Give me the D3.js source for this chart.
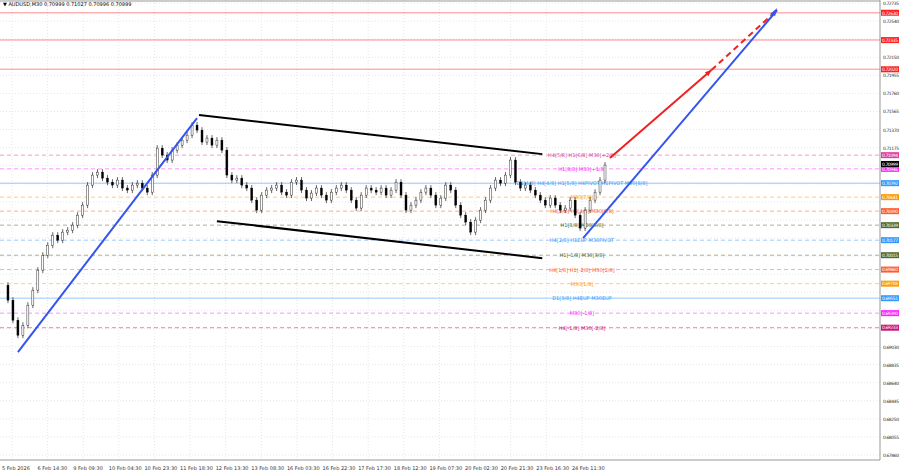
<!DOCTYPE html><html><head><meta charset="utf-8"><script src="https://cdn.jsdelivr.net/npm/d3@7"></script>
<style>body{margin:0;background:#fff}svg{font-family:"DejaVu Sans",sans-serif}</style></head><body><svg id="c" width="900" height="474"></svg>
<script>
const closes=[0.69692,0.69530,0.69314,0.69152,0.69260,0.69476,0.69638,0.69854,0.70015,0.70123,0.70231,0.70177,0.70264,0.70285,0.70339,0.70447,0.70555,0.70771,0.70879,0.70911,0.70846,0.70803,0.70771,0.70825,0.70739,0.70717,0.70771,0.70792,0.70739,0.70695,0.70879,0.71170,0.71095,0.71041,0.71148,0.71202,0.71256,0.71310,0.71418,0.71364,0.71235,0.71278,0.71202,0.71256,0.71148,0.70879,0.70825,0.70846,0.70771,0.70739,0.70609,0.70501,0.70663,0.70717,0.70739,0.70771,0.70695,0.70663,0.70803,0.70825,0.70717,0.70631,0.70685,0.70739,0.70663,0.70609,0.70695,0.70739,0.70771,0.70717,0.70609,0.70523,0.70663,0.70739,0.70717,0.70695,0.70739,0.70663,0.70717,0.70803,0.70663,0.70501,0.70555,0.70609,0.70695,0.70739,0.70663,0.70555,0.70631,0.70771,0.70717,0.70555,0.70447,0.70372,0.70264,0.70393,0.70501,0.70609,0.70739,0.70825,0.70792,0.70879,0.71041,0.70803,0.70739,0.70771,0.70717,0.70663,0.70609,0.70555,0.70631,0.70555,0.70501,0.70523,0.70609,0.70447,0.70307,0.70501,0.70609,0.70695,0.70825,0.70987];
const timeLabels=["5 Feb 2026","6 Feb 14:30","9 Feb 09:30","10 Feb 04:30","10 Feb 23:30","11 Feb 18:30","12 Feb 13:30","13 Feb 08:30","16 Feb 03:30","16 Feb 22:30","17 Feb 17:30","18 Feb 12:30","19 Feb 07:30","20 Feb 02:30","20 Feb 21:30","23 Feb 16:30","24 Feb 11:30"];
const priceTicks=[0.72735,0.72540,0.72345,0.72150,0.71955,0.71760,0.71565,0.71370,0.71175,0.70980,0.70785,0.70590,0.70395,0.70200,0.70005,0.69810,0.69615,0.69420,0.69225,0.69030,0.68835,0.68640,0.68445,0.68250,0.68055,0.67860];
const levelPrices=[0.72630,0.72335,0.72020,0.71094,0.70946,0.70792,0.70641,0.70490,0.70339,0.70177,0.70015,0.69860,0.69708,0.69551,0.69390,0.69233];
const levelText=["","","","H4[5/8] H1[6/8] M30[+2/8]","H1[8/8] M30[+1/8]","D1[4/8] H4[4/8] H1[5/8] H4PIVOT H1PIVOT M30[8/8]","M30[7/8]","H4[3/8] H1[4/8] M30[6/8]","H1[3/8] M30[5/8]","H4[2/8] H1EUP M30PIVOT","H1[-1/8] M30[3/8]","H4[1/8] H1[-2/8] M30[2/8]","M30[1/8]","D1[3/8] H4EUP M30EUP","M30[-1/8]","H4[-1/8] M30[-2/8]"];
const levelColor=["#ff2020","#ff2020","#ff2020","#e0409a","#ff22ff","#3399ff","#ff9900","#ff5a30","#556b2f","#3399ff","#556b2f","#ff5a30","#ff9900","#3399ff","#ff22ff","#cc1177"];
const levelSolid=[1,1,1,0,0,1,0,0,0,0,0,0,0,1,0,0];
const trendLines=[{a:[3,0.68969],b:[39,0.71494],c:"#3355ee",d:0},{a:[39.4,0.71526],b:[108.4,0.71105],c:"#000",d:0},{a:[43,0.70382],b:[108.4,0.69983],c:"#000",d:0},{a:[116.6,0.70199],b:[155.6,0.72659],c:"#3355ee",d:0},{a:[122,0.71062],b:[142.4,0.72012],c:"#ee2222",d:0},{a:[142.4,0.72012],b:[155.6,0.72659],c:"#ee2222",d:1}];
const lastPrice=0.70999;

const svg=d3.select("#c");
const W=880;
const x=d3.scaleLinear().domain([0,121]).range([3,605]);
const y=d3.scaleLinear().domain([0.67860,0.72735]).range([455,3]);
const g=svg.append("g");
const tags=levelPrices.map((p,i)=>({p,c:levelColor[i]})).concat([{p:lastPrice,c:"#000"}]);
priceTicks.forEach(p=>g.append("line").attr("x1",0).attr("x2",W).attr("y1",y(p)).attr("y2",y(p)).attr("stroke","#e6e6e6").attr("stroke-dasharray","1,2"));
timeLabels.forEach((t,i)=>{const xx=x(i*7.16+1.8);g.append("line").attr("x1",xx).attr("x2",xx).attr("y1",0).attr("y2",460).attr("stroke","#e6e6e6").attr("stroke-dasharray","1,2");
 svg.append("text").attr("x",Math.max(1,xx-10)).attr("y",470).attr("font-size",5).attr("fill","#333").text(t);});
levelPrices.forEach((p,i)=>{g.append("line").attr("x1",0).attr("x2",W).attr("y1",y(p)).attr("y2",y(p)).attr("stroke",levelColor[i]).attr("stroke-opacity",levelSolid[i]?0.35:0.5).attr("stroke-width",levelSolid[i]?1.5:1).attr("stroke-dasharray",levelSolid[i]?null:"4,3");
 if(levelText[i])g.append("text").attr("x",582).attr("y",y(p)+2).attr("text-anchor","middle").attr("font-size",5).attr("fill",levelColor[i]).text(levelText[i]);});
closes.forEach((c,i)=>{if(i===0)return;const o=closes[i-1];const hi=Math.max(o,c),lo=Math.min(o,c);
 g.append("line").attr("x1",x(i)).attr("x2",x(i)).attr("y1",y(hi)-3).attr("y2",y(lo)+3).attr("stroke","#000").attr("stroke-width",0.6);
 g.append("rect").attr("x",x(i)-1).attr("y",y(hi)).attr("width",2).attr("height",Math.max(0.8,y(lo)-y(hi))).attr("fill",c>=o?"#fff":"#000").attr("stroke","#000").attr("stroke-width",0.4);});
trendLines.forEach(l=>g.append("line").attr("x1",x(l.a[0])).attr("y1",y(l.a[1])).attr("x2",x(l.b[0])).attr("y2",y(l.b[1])).attr("stroke",l.c).attr("stroke-width",2).attr("stroke-dasharray",l.d?"6,4":null));
const rl=trendLines[4];const ax=x(rl.b[0]),ay=y(rl.b[1]),ang=Math.atan2(y(rl.b[1])-y(rl.a[1]),x(rl.b[0])-x(rl.a[0]));
g.append("path").attr("d",`M${ax},${ay}L${ax-7*Math.cos(ang-0.4)},${ay-7*Math.sin(ang-0.4)}L${ax-7*Math.cos(ang+0.4)},${ay-7*Math.sin(ang+0.4)}Z`).attr("fill","#ee2222");
const bl=trendLines[3];const bx=x(bl.b[0]),by=y(bl.b[1]);
g.append("path").attr("d",`M${bx},${by-2}L${bx-7},${by+4}L${bx-2},${by+6}Z`).attr("fill","#3355ee");
svg.append("line").attr("x1",W).attr("x2",W).attr("y1",0).attr("y2",460).attr("stroke","#999");
svg.append("line").attr("x1",0).attr("x2",W).attr("y1",460).attr("y2",460).attr("stroke","#999");
svg.append("line").attr("x1",0).attr("x2",W).attr("y1",1).attr("y2",1).attr("stroke","#999");
priceTicks.forEach(p=>{if(tags.some(t=>Math.abs(y(t.p)-y(p))<6))return;
 svg.append("text").attr("x",883).attr("y",y(p)+2).attr("font-size",4.5).attr("textLength",16).attr("fill","#333").text(p.toFixed(5));});
tags.forEach(t=>{svg.append("rect").attr("x",881).attr("y",y(t.p)-3).attr("width",18).attr("height",6).attr("fill",t.c);
 svg.append("text").attr("x",882).attr("y",y(t.p)+1.8).attr("font-size",4.5).attr("textLength",16).attr("fill","#fff").text(t.p.toFixed(5));});
svg.append("text").attr("x",3).attr("y",6).attr("font-size",5).attr("fill","#000").text("▼ AUDUSD,M30  0.70999 0.71027 0.70996 0.70999");
</script></body></html>
